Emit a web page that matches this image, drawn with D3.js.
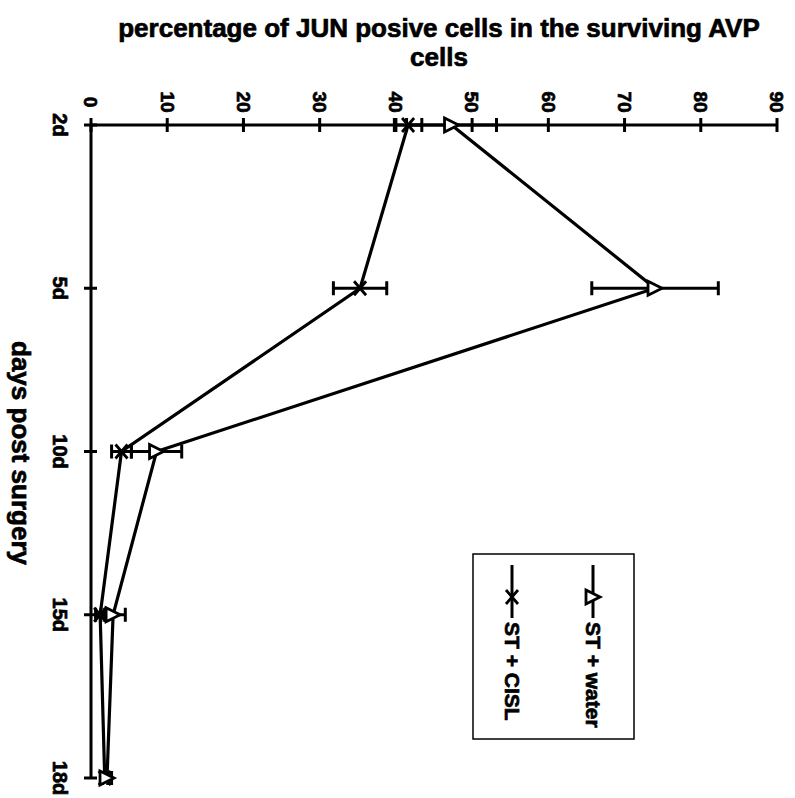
<!DOCTYPE html>
<html>
<head>
<meta charset="utf-8">
<script src="https://cdn.jsdelivr.net/npm/d3@7"></script>
<style>
  body { margin: 0; background: #fff; }
  text { font-family: "Liberation Sans", Arial, sans-serif; font-weight: bold; fill: #000; stroke: #000; stroke-width: 0.7px; }
</style>
</head>
<body>
<script>
// data (percent)
const days = ["2d", "5d", "10d", "15d", "18d"];
const waterVals = [47.3, 74.0, 8.6, 2.9, 2.1];
const waterErr = [5.9, 8.3, 3.3, 1.6, 0.6];
const cislVals = [41.6, 35.3, 4.0, 1.2, 1.8];
const cislErr = [1.8, 3.5, 1.3, 0.6, 0.4];
const valueTicks = [0, 10, 20, 30, 40, 50, 60, 70, 80, 90];

const W = 795, H = 798;

const svg = d3.select("body").append("svg")
  .attr("width", W).attr("height", H);

// chart is drawn turned a quarter: values run left->right, days run top->bottom
const x = d3.scaleLinear().domain([0, 90]).range([91, 777]);
const y = d3.scalePoint().domain(days).range([125, 778]);

// title (value axis title)
const title = svg.append("text")
  .attr("text-anchor", "middle")
  .style("font-size", "26px");
title.append("tspan").attr("x", 439).attr("y", 37).text("percentage of JUN posive cells in the surviving AVP");
title.append("tspan").attr("x", 439).attr("y", 66).text("cells");

// category axis title
svg.append("text")
  .attr("transform", "translate(12,453) rotate(90)")
  .attr("text-anchor", "middle")
  .style("font-size", "26px")
  .text("days post surgery");

// value axis (top)
const vAxis = svg.append("g");
vAxis.append("line")
  .attr("x1", x(0)).attr("x2", x(90))
  .attr("y1", y("2d")).attr("y2", y("2d"))
  .attr("stroke", "#000").attr("stroke-width", 3);
vAxis.selectAll(".vt").data(valueTicks).enter().append("line")
  .attr("x1", d => x(d)).attr("x2", d => x(d))
  .attr("y1", y("2d") - 7).attr("y2", y("2d") + 7)
  .attr("stroke", "#000").attr("stroke-width", 3);
vAxis.selectAll(".vl").data(valueTicks).enter().append("text")
  .attr("transform", d => "translate(" + x(d) + "," + (y("2d") - 23) + ") rotate(90)")
  .attr("text-anchor", "middle")
  .attr("dy", "0.35em")
  .style("font-size", "19px")
  .text(d => d);

// category axis (left)
const cAxis = svg.append("g");
cAxis.append("line")
  .attr("x1", x(0)).attr("x2", x(0))
  .attr("y1", y("2d")).attr("y2", y("18d"))
  .attr("stroke", "#000").attr("stroke-width", 3);
cAxis.selectAll(".ct").data(days).enter().append("line")
  .attr("x1", x(0) - 7).attr("x2", x(0) + 6)
  .attr("y1", d => y(d)).attr("y2", d => y(d))
  .attr("stroke", "#000").attr("stroke-width", 3);
cAxis.selectAll(".cl").data(days).enter().append("text")
  .attr("transform", d => "translate(" + (x(0) - 31) + "," + y(d) + ") rotate(90)")
  .attr("text-anchor", "middle")
  .attr("dy", "0.35em")
  .style("font-size", "20px")
  .text(d => d);

const line = d3.line()
  .x(d => x(d.v))
  .y(d => y(d.day));

function drawSeries(vals, errs, marker) {
  const pts = days.map((day, i) => ({ day: day, v: vals[i], e: errs[i] }));
  const g = svg.append("g");
  g.append("path")
    .datum(pts)
    .attr("d", line)
    .attr("fill", "none")
    .attr("stroke", "#000")
    .attr("stroke-width", 3.2);
  // error bars
  const eb = g.selectAll(".eb").data(pts).enter().append("g");
  eb.append("line")
    .attr("x1", d => x(d.v - d.e)).attr("x2", d => x(d.v + d.e))
    .attr("y1", d => y(d.day)).attr("y2", d => y(d.day))
    .attr("stroke", "#000").attr("stroke-width", 3);
  [-1, 1].forEach(s => {
    eb.append("line")
      .attr("x1", d => x(d.v + s * d.e)).attr("x2", d => x(d.v + s * d.e))
      .attr("y1", d => y(d.day) - 7).attr("y2", d => y(d.day) + 7)
      .attr("stroke", "#000").attr("stroke-width", 3);
  });
  g.selectAll(".mk").data(pts).enter().append("path")
    .attr("transform", d => "translate(" + x(d.v) + "," + y(d.day) + ")")
    .attr("d", marker)
    .attr("fill", "#fff")
    .attr("stroke", "#000")
    .attr("stroke-width", 2.8);
}

const triangle = "M-7,-7L7,0L-7,7Z";
const cross = "M-6,-7L6,7M-6,7L6,-7";

drawSeries(cislVals, cislErr, cross);
drawSeries(waterVals, waterErr, triangle);

// legend (box with vertical entries)
const lg = svg.append("g");
lg.append("rect")
  .attr("x", 473).attr("y", 554)
  .attr("width", 161).attr("height", 185)
  .attr("fill", "#fff")
  .attr("stroke", "#000").attr("stroke-width", 1.5);

const legendItems = [
  { name: "ST + water", marker: triangle, lx: 593 },
  { name: "ST + CISL", marker: cross, lx: 512 }
];
legendItems.forEach(it => {
  lg.append("line")
    .attr("x1", it.lx).attr("x2", it.lx)
    .attr("y1", 565).attr("y2", 618)
    .attr("stroke", "#000").attr("stroke-width", 3);
  lg.append("path")
    .attr("transform", "translate(" + it.lx + ",597)")
    .attr("d", it.marker)
    .attr("fill", "#fff")
    .attr("stroke", "#000")
    .attr("stroke-width", 2.8);
  lg.append("text")
    .attr("transform", "translate(" + it.lx + ",622) rotate(90)")
    .attr("dy", "0.35em")
    .style("font-size", "21px")
    .text(it.name);
});
</script>
</body>
</html>
